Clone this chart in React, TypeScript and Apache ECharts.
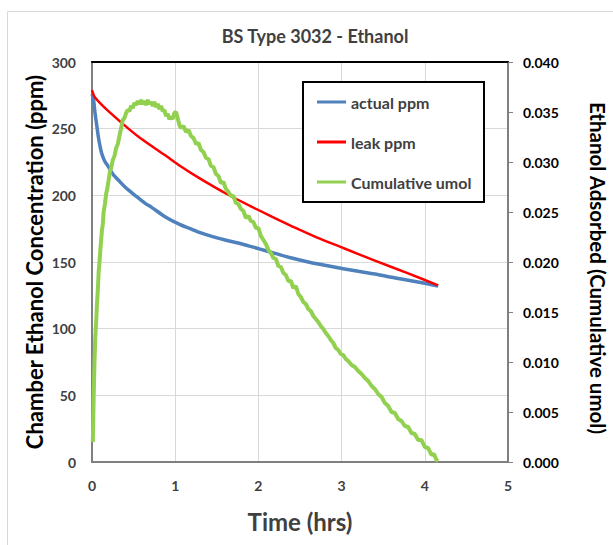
import React, { useEffect, useRef } from "react";
import * as echarts from "echarts";

const FONT = "Lato";

const titleText = "BS Type 3032 - Ethanol";
const xAxisTitle = "Time (hrs)";
const yLeftTitle = "Chamber Ethanol Concentration (ppm)";
const yRightTitle = "Ethanol Adsorbed (Cumulative umol)";
const seriesNames = ["actual ppm", "leak ppm", "Cumulative umol"];

const actualT = [0, 0.016, 0.036, 0.056, 0.076, 0.096, 0.116, 0.15, 0.196, 0.25, 0.316, 0.4, 0.517, 0.64, 0.717, 0.877, 1.06, 1.2, 1.3, 1.45, 1.6, 1.8, 2.0, 2.2, 2.4, 2.6, 2.8, 3.02, 3.2, 3.4, 3.6, 3.8, 4.0, 4.16];
const actualPpm = [276, 273, 262, 253, 244, 237, 231.5, 226, 221.5, 216, 211.5, 206, 200, 194, 191, 184, 178, 174.5, 172, 169, 166.5, 163.5, 160, 156.5, 153, 150, 147.5, 145, 143, 141, 138.5, 136.3, 134, 132];

const leakT = [0, 0.01, 0.03, 0.1, 0.2, 0.42, 0.6, 0.88, 1.06, 1.3, 1.62, 2.0, 2.26, 2.38, 2.7, 3.02, 3.4, 3.8, 4.16];
const leakPpm = [279, 277, 274, 269, 263, 251, 242, 230, 222, 212.5, 201, 189, 181, 177.5, 168.5, 160.5, 151, 141.5, 132.5];

const cumT = [0.01, 0.02, 0.03, 0.04, 0.05, 0.06, 0.07, 0.08, 0.09, 0.1, 0.11, 0.12, 0.13, 0.14, 0.155, 0.17, 0.185, 0.2, 0.215, 0.23, 0.25, 0.27, 0.29, 0.31, 0.33, 0.35, 0.37, 0.39, 0.41, 0.43, 0.45, 0.47, 0.49, 0.51, 0.53, 0.55, 0.57, 0.59, 0.61, 0.63, 0.65, 0.67, 0.69, 0.71, 0.73, 0.75, 0.77, 0.79, 0.81, 0.83, 0.85, 0.87, 0.89, 0.91, 0.93, 0.95, 0.97, 0.99, 1.01, 1.03, 1.05, 1.07, 1.1, 1.13, 1.16, 1.19, 1.22, 1.25, 1.28, 1.31, 1.34, 1.37, 1.4, 1.43, 1.46, 1.49, 1.52, 1.55, 1.58, 1.61, 1.64, 1.67, 1.7, 1.73, 1.76, 1.79, 1.82, 1.85, 1.88, 1.91, 1.94, 1.97, 2.0, 2.03, 2.06, 2.09, 2.12, 2.15, 2.18, 2.21, 2.24, 2.27, 2.3, 2.33, 2.36, 2.39, 2.42, 2.45, 2.48, 2.51, 2.54, 2.57, 2.6, 2.63, 2.66, 2.69, 2.72, 2.75, 2.78, 2.81, 2.84, 2.87, 2.9, 2.93, 2.96, 2.99, 3.02, 3.05, 3.08, 3.12, 3.16, 3.2, 3.24, 3.28, 3.32, 3.36, 3.4, 3.44, 3.48, 3.52, 3.56, 3.6, 3.64, 3.68, 3.72, 3.76, 3.8, 3.84, 3.88, 3.92, 3.96, 4.0, 4.04, 4.08, 4.11, 4.14, 4.16];
const cumUmol = [0.002, 0.0065, 0.01, 0.0125, 0.014, 0.0158, 0.0172, 0.019, 0.02, 0.0212, 0.0222, 0.0232, 0.0238, 0.025, 0.0258, 0.0268, 0.0274, 0.0282, 0.029, 0.0294, 0.0302, 0.0306, 0.0314, 0.0318, 0.0326, 0.0334, 0.0342, 0.0344, 0.0349, 0.0352, 0.0351, 0.0356, 0.0354, 0.0359, 0.0357, 0.0361, 0.0358, 0.0362, 0.0358, 0.0361, 0.0357, 0.0362, 0.0358, 0.036, 0.0356, 0.036, 0.0355, 0.0358, 0.0353, 0.0356, 0.0351, 0.0352, 0.0346, 0.0348, 0.0343, 0.0345, 0.0343, 0.0349, 0.035, 0.0344, 0.0337, 0.0334, 0.0336, 0.033, 0.0332, 0.0326, 0.0324, 0.0318, 0.0319, 0.0312, 0.031, 0.0304, 0.0303, 0.0296, 0.0295, 0.0288, 0.0286, 0.0279, 0.028, 0.0273, 0.027, 0.0266, 0.0266, 0.0259, 0.0258, 0.0253, 0.0251, 0.0244, 0.0246, 0.0241, 0.024, 0.0234, 0.0234, 0.0226, 0.0222, 0.0218, 0.0212, 0.0209, 0.0204, 0.0203, 0.0196, 0.0195, 0.0189, 0.0187, 0.0181, 0.0181, 0.0174, 0.0176, 0.0168, 0.0165, 0.016, 0.0158, 0.0153, 0.0151, 0.0146, 0.0143, 0.014, 0.0136, 0.0133, 0.0129, 0.0126, 0.0122, 0.0119, 0.0114, 0.0112, 0.0108, 0.0107, 0.0103, 0.0101, 0.0097, 0.0095, 0.0091, 0.0088, 0.0084, 0.0081, 0.0076, 0.0073, 0.0068, 0.0065, 0.0059, 0.0056, 0.005, 0.0049, 0.0043, 0.0041, 0.0036, 0.0035, 0.0029, 0.0028, 0.0022, 0.0022, 0.0015, 0.0014, 0.0007, 0.0008, 0.0002, 0.0001];

const zip = (a: number[], b: number[]) => a.map((t, i) => [t, b[i]]);

export default function App() {
  const ref = useRef<HTMLDivElement>(null);
  useEffect(() => {
    const chart = echarts.init(ref.current!, null, { renderer: "svg" });
    chart.setOption({
      animation: false,
      textStyle: { fontFamily: FONT },
      grid: { left: 92, right: 105, top: 62, bottom: 83 },
      legend: {
        orient: "vertical",
        left: 317,
        top: 94,
        padding: 0,
        icon: "rect",
        itemWidth: 29,
        itemHeight: 3,
        itemGap: 24,
        z: 10,
        textStyle: { fontFamily: FONT, fontSize: 16, fontWeight: "bold", color: "#404040", lineHeight: 16 },
        data: seriesNames,
      },
      xAxis: [
        {
          type: "value", min: 0, max: 5, interval: 1, position: "bottom",
          axisLine: { show: true, onZero: false, lineStyle: { color: "#808080", width: 2 } },
          axisTick: { show: false },
          axisLabel: { margin: 16, fontSize: 14, fontWeight: "bold", color: "#404040", fontFamily: FONT },
          splitLine: { show: true, lineStyle: { color: "#d9d9d9", width: 1 } },
        },
        {
          type: "value", min: 0, max: 5, interval: 1, position: "top",
          axisLine: { show: true, onZero: false, lineStyle: { color: "#000", width: 2 } },
          axisTick: { show: false }, axisLabel: { show: false }, splitLine: { show: false },
        },
      ],
      yAxis: [
        {
          type: "value", min: 0, max: 300, interval: 50, position: "left",
          axisLine: { show: true, onZero: false, lineStyle: { color: "#808080", width: 2 } },
          axisTick: { show: false },
          axisLabel: { margin: 16, fontSize: 14, fontWeight: "bold", color: "#404040", fontFamily: FONT },
          splitLine: { show: true, lineStyle: { color: "#d9d9d9", width: 1 } },
        },
        {
          type: "value", min: 0, max: 0.04, interval: 0.005, position: "right",
          axisLine: { show: true, onZero: false, lineStyle: { color: "#808080", width: 2 } },
          axisTick: { show: true, length: 5, lineStyle: { color: "#808080", width: 1 } },
          axisLabel: { margin: 15, fontSize: 14, fontWeight: "bold", color: "#000", fontFamily: FONT, formatter: (v: number) => v.toFixed(3) },
          splitLine: { show: false },
        },
      ],
      series: [
        { name: seriesNames[0], type: "line", xAxisIndex: 0, yAxisIndex: 0, showSymbol: false, symbol: "none", smooth: 0.3, lineStyle: { color: "#4f81bd", width: 3.5 }, itemStyle: { color: "#4f81bd" }, data: zip(actualT, actualPpm) },
        { name: seriesNames[1], type: "line", xAxisIndex: 0, yAxisIndex: 0, showSymbol: false, symbol: "none", smooth: 0.3, lineStyle: { color: "#ff0000", width: 2.5 }, itemStyle: { color: "#ff0000" }, data: zip(leakT, leakPpm) },
        { name: seriesNames[2], type: "line", xAxisIndex: 0, yAxisIndex: 1, showSymbol: false, symbol: "none", lineStyle: { color: "#92d050", width: 4 }, itemStyle: { color: "#92d050" }, data: zip(cumT, cumUmol) },
      ],
      graphic: [
        { type: "rect", z: -10, silent: true, shape: { x: 7.5, y: 11.5, width: 700, height: 600 }, style: { fill: "none", stroke: "#d9d9d9", lineWidth: 1 } },
        { type: "rect", z: 5, silent: true, shape: { x: 303, y: 82, width: 181, height: 120 }, style: { fill: "#fff", stroke: "#000", lineWidth: 2 } },
        { type: "text", x: 315, y: 36, z: 5, style: { text: titleText, font: `bold 18px ${FONT}`, fill: "#404040", align: "center", verticalAlign: "middle" } },
        { type: "text", x: 300, y: 521, z: 5, style: { text: xAxisTitle, font: `bold 24px ${FONT}`, fill: "#404040", align: "center", verticalAlign: "middle" } },
        { type: "text", x: 34, y: 262, z: 5, rotation: Math.PI / 2, style: { text: yLeftTitle, font: `bold 22px ${FONT}`, fill: "#000", align: "center", verticalAlign: "middle" } },
        { type: "text", x: 598, y: 268, z: 5, rotation: -Math.PI / 2, style: { text: yRightTitle, font: `bold 20.5px ${FONT}`, fill: "#000", align: "center", verticalAlign: "middle" } },
      ],
    });
    return () => chart.dispose();
  }, []);
  return <div ref={ref} style={{ position: "fixed", left: 0, top: 0, width: 613, height: 545, background: "#fff" }} />;
}
